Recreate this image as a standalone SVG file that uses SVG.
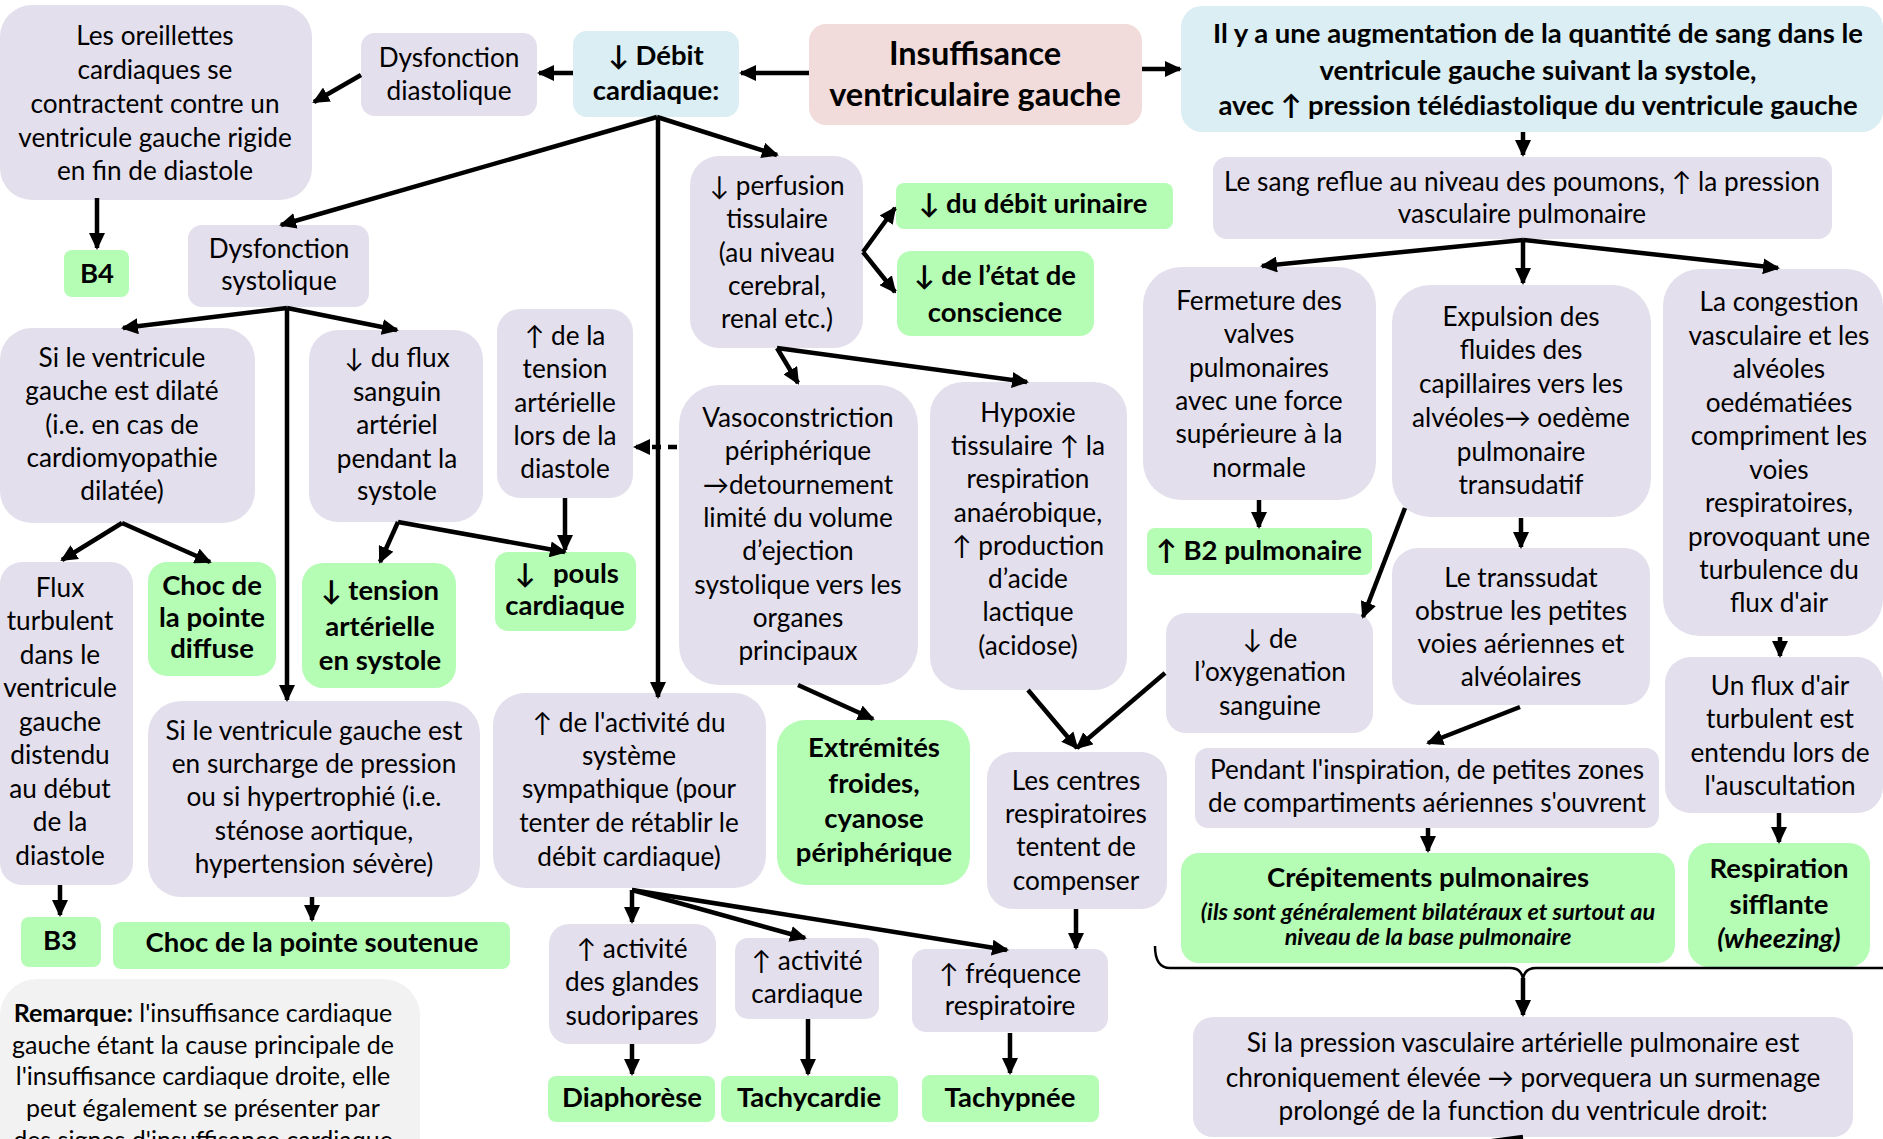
<svg xmlns="http://www.w3.org/2000/svg" width="1883" height="1139" viewBox="0 0 1883 1139">
<defs>
<marker id="ah" markerUnits="userSpaceOnUse" markerWidth="17" markerHeight="16" refX="15" refY="8" orient="auto"><path d="M0,0 L17,8 L0,16 z" fill="#000"/></marker>
<style>
.n{fill:#E4DFEC}.g{fill:#B5FDB5}.bl{fill:#DAEEF3}.pk{fill:#F2DCDB}.gr{fill:#F2F2F2}
text{font-family:Lato,'DejaVu Sans',sans-serif;font-size:26.2px;fill:#000;text-anchor:middle}
.b{font-weight:bold}
text.b{font-size:27.5px}
.i{font-style:italic}
#connectors line,#connectors path{stroke:#000;stroke-width:4.5;fill:none;marker-end:url(#ah)}
#connectors .nm{marker-end:none}
#connectors .thin{stroke-width:2.5}
</style>
</defs>
<rect width="1883" height="1139" fill="#fff"/>

<g id="n-oreillettes"><rect class="n" x="0" y="5" width="312" height="195" rx="32"/>
<text><tspan x="155" y="45">Les oreillettes</tspan><tspan x="155" y="79">cardiaques se</tspan><tspan x="155" y="113">contractent contre un</tspan><tspan x="155" y="147">ventricule gauche rigide</tspan><tspan x="155" y="180">en fin de diastole</tspan></text></g>

<g id="n-b4"><rect class="g" x="64" y="250" width="65" height="47" rx="8"/><text class="b" x="97" y="283">B4</text></g>

<g id="n-dysdiast"><rect class="n" x="361" y="33" width="176" height="83" rx="14"/>
<text><tspan x="449" y="67">Dysfonction</tspan><tspan x="449" y="100">diastolique</tspan></text></g>

<g id="n-debit"><rect class="bl" x="573" y="31" width="166" height="86" rx="14"/>
<text class="b"><tspan x="656" y="65">↓ Débit</tspan><tspan x="656" y="100">cardiaque:</tspan></text></g>

<g id="n-icg"><rect class="pk" x="809" y="24" width="333" height="101" rx="17"/>
<text class="b" style="font-size:32.5px"><tspan x="975" y="65">Insuffisance</tspan><tspan x="975" y="106">ventriculaire gauche</tspan></text></g>

<g id="n-augment"><rect class="bl" x="1181" y="6" width="702" height="126" rx="21"/>
<text class="b"><tspan x="1538" y="43">Il y a une augmentation de la quantité de sang dans le</tspan><tspan x="1538" y="80">ventricule gauche suivant la systole,</tspan><tspan x="1538" y="115">avec ↑ pression télédiastolique du ventricule gauche</tspan></text></g>

<g id="n-sang"><rect class="n" x="1213" y="157" width="619" height="82" rx="14"/>
<text><tspan x="1522" y="191">Le sang reflue au niveau des poumons, ↑ la pression</tspan><tspan x="1522" y="223">vasculaire pulmonaire</tspan></text></g>

<g id="n-fermeture"><rect class="n" x="1143" y="267" width="233" height="233" rx="38"/>
<text><tspan x="1259" y="310">Fermeture des</tspan><tspan x="1259" y="343">valves</tspan><tspan x="1259" y="377">pulmonaires</tspan><tspan x="1259" y="410">avec une force</tspan><tspan x="1259" y="443">supérieure à la</tspan><tspan x="1259" y="477">normale</tspan></text></g>

<g id="n-b2"><rect class="g" x="1147" y="528" width="225" height="47" rx="8"/><text class="b" x="1259" y="560">↑ B2 pulmonaire</text></g>

<g id="n-expulsion"><rect class="n" x="1392" y="285" width="259" height="232" rx="38"/>
<text><tspan x="1521" y="326">Expulsion des</tspan><tspan x="1521" y="359">fluides des</tspan><tspan x="1521" y="393">capillaires vers les</tspan><tspan x="1521" y="427">alvéoles→ oedème</tspan><tspan x="1521" y="461">pulmonaire</tspan><tspan x="1521" y="494">transudatif</tspan></text></g>

<g id="n-congestion"><rect class="n" x="1663" y="269" width="220" height="367" rx="37"/>
<text><tspan x="1779" y="311">La congestion</tspan><tspan x="1779" y="345">vasculaire et les</tspan><tspan x="1779" y="378">alvéoles</tspan><tspan x="1779" y="412">oedématiées</tspan><tspan x="1779" y="445">compriment les</tspan><tspan x="1779" y="479">voies</tspan><tspan x="1779" y="512">respiratoires,</tspan><tspan x="1779" y="546">provoquant une</tspan><tspan x="1779" y="579">turbulence du</tspan><tspan x="1779" y="612">flux d'air</tspan></text></g>

<g id="n-transsudat"><rect class="n" x="1392" y="548" width="258" height="157" rx="26"/>
<text><tspan x="1521" y="587">Le transsudat</tspan><tspan x="1521" y="620">obstrue les petites</tspan><tspan x="1521" y="653">voies aériennes et</tspan><tspan x="1521" y="686">alvéolaires</tspan></text></g>

<g id="n-oxygen"><rect class="n" x="1166" y="613" width="207" height="120" rx="20"/>
<text><tspan x="1270" y="648">↓ de</tspan><tspan x="1270" y="681">l’oxygenation</tspan><tspan x="1270" y="715">sanguine</tspan></text></g>

<g id="n-hypoxie"><rect class="n" x="930" y="382" width="197" height="308" rx="33"/>
<text><tspan x="1028" y="422">Hypoxie</tspan><tspan x="1028" y="455">tissulaire ↑ la</tspan><tspan x="1028" y="488">respiration</tspan><tspan x="1028" y="522">anaérobique,</tspan><tspan x="1028" y="555">↑ production</tspan><tspan x="1028" y="588">d’acide</tspan><tspan x="1028" y="621">lactique</tspan><tspan x="1028" y="655">(acidose)</tspan></text></g>

<g id="n-vaso"><rect class="n" x="679" y="385" width="239" height="300" rx="40"/>
<text><tspan x="798" y="427">Vasoconstriction</tspan><tspan x="798" y="460">périphérique</tspan><tspan x="798" y="494">→detournement</tspan><tspan x="798" y="527">limité du volume</tspan><tspan x="798" y="560">d’ejection</tspan><tspan x="798" y="594">systolique vers les</tspan><tspan x="798" y="627">organes</tspan><tspan x="798" y="660">principaux</tspan></text></g>

<g id="n-perfusion"><rect class="n" x="690" y="156" width="173" height="192" rx="29"/>
<text><tspan x="777" y="195">↓ perfusion</tspan><tspan x="777" y="228">tissulaire</tspan><tspan x="777" y="262">(au niveau</tspan><tspan x="777" y="295">cerebral,</tspan><tspan x="777" y="328">renal etc.)</tspan></text></g>

<g id="n-urinaire"><rect class="g" x="896" y="183" width="277" height="46" rx="8"/><text class="b" x="1033" y="213">↓ du débit urinaire</text></g>

<g id="n-conscience"><rect class="g" x="897" y="251" width="197" height="85" rx="14"/>
<text class="b"><tspan x="995" y="285">↓ de l’état de</tspan><tspan x="995" y="322">conscience</tspan></text></g>

<g id="n-dyssyst"><rect class="n" x="188" y="225" width="181" height="82" rx="14"/>
<text><tspan x="279" y="258">Dysfonction</tspan><tspan x="279" y="290">systolique</tspan></text></g>

<g id="n-dilate"><rect class="n" x="0" y="328" width="255" height="195" rx="32"/>
<text><tspan x="122" y="367">Si le ventricule</tspan><tspan x="122" y="400">gauche est dilaté</tspan><tspan x="122" y="434">(i.e. en cas de</tspan><tspan x="122" y="467">cardiomyopathie</tspan><tspan x="122" y="500">dilatée)</tspan></text></g>

<g id="n-fluxturb"><rect class="n" x="0" y="562" width="133" height="323" rx="22"/>
<text><tspan x="60" y="597">Flux</tspan><tspan x="60" y="630">turbulent</tspan><tspan x="60" y="664">dans le</tspan><tspan x="60" y="697">ventricule</tspan><tspan x="60" y="731">gauche</tspan><tspan x="60" y="764">distendu</tspan><tspan x="60" y="798">au début</tspan><tspan x="60" y="831">de la</tspan><tspan x="60" y="865">diastole</tspan></text></g>

<g id="n-chocdiff"><rect class="g" x="148" y="562" width="128" height="114" rx="19"/>
<text class="b"><tspan x="212" y="595">Choc de</tspan><tspan x="212" y="627">la pointe</tspan><tspan x="212" y="658">diffuse</tspan></text></g>

<g id="n-b3"><rect class="g" x="21" y="917" width="80" height="50" rx="8"/><text class="b" x="60" y="950">B3</text></g>

<g id="n-surcharge"><rect class="n" x="148" y="701" width="332" height="196" rx="33"/>
<text><tspan x="314" y="740">Si le ventricule gauche est</tspan><tspan x="314" y="773">en surcharge de pression</tspan><tspan x="314" y="806">ou si hypertrophié (i.e.</tspan><tspan x="314" y="840">sténose aortique,</tspan><tspan x="314" y="873">hypertension sévère)</tspan></text></g>

<g id="n-chocsout"><rect class="g" x="113" y="922" width="397" height="47" rx="8"/><text class="b" x="312" y="952">Choc de la pointe soutenue</text></g>

<g id="n-remarque"><rect class="gr" x="0" y="979" width="420" height="220" rx="37"/>
<text style="font-size:25px"><tspan x="203" y="1022"><tspan class="b">Remarque:</tspan> l'insuffisance cardiaque</tspan><tspan x="203" y="1054">gauche étant la cause principale de</tspan><tspan x="203" y="1085">l'insuffisance cardiaque droite, elle</tspan><tspan x="203" y="1117">peut également se présenter par</tspan><tspan x="203" y="1149">des signes d'insuffisance cardiaque</tspan></text></g>

<g id="n-fluxart"><rect class="n" x="309" y="330" width="174" height="192" rx="29"/>
<text><tspan x="397" y="367">↓ du flux</tspan><tspan x="397" y="401">sanguin</tspan><tspan x="397" y="434">artériel</tspan><tspan x="397" y="468">pendant la</tspan><tspan x="397" y="500">systole</tspan></text></g>

<g id="n-tensdiast"><rect class="n" x="497" y="309" width="136" height="189" rx="23"/>
<text><tspan x="565" y="345">↑ de la</tspan><tspan x="565" y="378">tension</tspan><tspan x="565" y="412">artérielle</tspan><tspan x="565" y="445">lors de la</tspan><tspan x="565" y="478">diastole</tspan></text></g>

<g id="n-pouls"><rect class="g" x="495" y="552" width="141" height="79" rx="13"/>
<text class="b"><tspan x="525" y="583">↓</tspan><tspan x="553" y="583" style="text-anchor:start">pouls</tspan><tspan x="565" y="615">cardiaque</tspan></text></g>

<g id="n-tenssyst"><rect class="g" x="302" y="563" width="154" height="125" rx="21"/>
<text class="b"><tspan x="380" y="600">↓ tension</tspan><tspan x="380" y="636">artérielle</tspan><tspan x="380" y="670">en systole</tspan></text></g>

<g id="n-sympa"><rect class="n" x="493" y="693" width="273" height="195" rx="32"/>
<text><tspan x="629" y="732">↑ de l'activité du</tspan><tspan x="629" y="765">système</tspan><tspan x="629" y="798">sympathique (pour</tspan><tspan x="629" y="832">tenter de rétablir le</tspan><tspan x="629" y="866">débit cardiaque)</tspan></text></g>

<g id="n-extrem"><rect class="g" x="777" y="720" width="193" height="165" rx="28"/>
<text class="b"><tspan x="874" y="757">Extrémités</tspan><tspan x="874" y="793">froides,</tspan><tspan x="874" y="828">cyanose</tspan><tspan x="874" y="862">périphérique</tspan></text></g>

<g id="n-glandes"><rect class="n" x="549" y="924" width="167" height="120" rx="20"/>
<text><tspan x="632" y="958">↑ activité</tspan><tspan x="632" y="991">des glandes</tspan><tspan x="632" y="1025">sudoripares</tspan></text></g>

<g id="n-diapho"><rect class="g" x="548" y="1076" width="167" height="46" rx="8"/><text class="b" x="632" y="1107">Diaphorèse</text></g>

<g id="n-actcard"><rect class="n" x="735" y="938" width="144" height="81" rx="13"/>
<text><tspan x="807" y="970">↑ activité</tspan><tspan x="807" y="1003">cardiaque</tspan></text></g>

<g id="n-tachyc"><rect class="g" x="721" y="1076" width="177" height="46" rx="8"/><text class="b" x="809" y="1107">Tachycardie</text></g>

<g id="n-freq"><rect class="n" x="912" y="949" width="196" height="83" rx="14"/>
<text><tspan x="1010" y="983">↑ fréquence</tspan><tspan x="1010" y="1015">respiratoire</tspan></text></g>

<g id="n-tachyp"><rect class="g" x="922" y="1075" width="177" height="47" rx="8"/><text class="b" x="1010" y="1107">Tachypnée</text></g>

<g id="n-centres"><rect class="n" x="987" y="752" width="180" height="157" rx="26"/>
<text><tspan x="1076" y="790">Les centres</tspan><tspan x="1076" y="823">respiratoires</tspan><tspan x="1076" y="856">tentent de</tspan><tspan x="1076" y="890">compenser</tspan></text></g>

<g id="n-pendant"><rect class="n" x="1195" y="748" width="464" height="80" rx="13"/>
<text><tspan x="1427" y="779">Pendant l'inspiration, de petites zones</tspan><tspan x="1427" y="812">de compartiments aériennes s'ouvrent</tspan></text></g>

<g id="n-crepit"><rect class="g" x="1181" y="853" width="494" height="110" rx="18"/>
<text class="b"><tspan x="1428" y="887">Crépitements pulmonaires</tspan><tspan class="i" x="1428" y="920" style="font-size:23.5px">(ils sont généralement bilatéraux et surtout au</tspan><tspan class="i" x="1428" y="945" style="font-size:23.5px">niveau de la base pulmonaire</tspan></text></g>

<g id="n-unflux"><rect class="n" x="1665" y="657" width="218" height="156" rx="26"/>
<text><tspan x="1780" y="695">Un flux d'air</tspan><tspan x="1780" y="728">turbulent est</tspan><tspan x="1780" y="762">entendu lors de</tspan><tspan x="1780" y="795">l'auscultation</tspan></text></g>

<g id="n-respi"><rect class="g" x="1688" y="843" width="182" height="124" rx="21"/>
<text class="b"><tspan x="1779" y="878">Respiration</tspan><tspan x="1779" y="914">sifflante</tspan><tspan class="i" x="1779" y="948">(wheezing)</tspan></text></g>

<g id="n-pression"><rect class="n" x="1193" y="1017" width="660" height="120" rx="20"/>
<text><tspan x="1523" y="1052">Si la pression vasculaire artérielle pulmonaire est</tspan><tspan x="1523" y="1087">chroniquement élevée → porvequera un surmenage</tspan><tspan x="1523" y="1120">prolongé de la function du ventricule droit:</tspan></text></g>

<g id="connectors">
<line x1="97" y1="198" x2="97" y2="248"/>
<line x1="361" y1="75" x2="314" y2="102"/>
<line x1="573" y1="73" x2="539" y2="73"/>
<line x1="809" y1="73" x2="741" y2="73"/>
<line x1="1142" y1="69" x2="1180" y2="69"/>
<line x1="657" y1="117" x2="281" y2="225"/>
<line x1="658" y1="117" x2="658" y2="697"/>
<line x1="657" y1="117" x2="777" y2="155"/>
<line x1="287" y1="308" x2="123" y2="328"/>
<line x1="287" y1="308" x2="397" y2="330"/>
<line x1="287" y1="308" x2="287" y2="700"/>
<line x1="122" y1="523" x2="62" y2="560"/>
<line x1="122" y1="523" x2="210" y2="562"/>
<line x1="398" y1="522" x2="380" y2="562"/>
<line x1="398" y1="522" x2="565" y2="552"/>
<line x1="565" y1="498" x2="565" y2="550"/>
<line x1="677" y1="447" x2="635" y2="447" stroke-dasharray="9,7"/>
<line x1="863" y1="252" x2="895" y2="208"/>
<line x1="863" y1="252" x2="895" y2="292"/>
<line x1="777" y1="348" x2="798" y2="383"/>
<line x1="777" y1="348" x2="1027" y2="382"/>
<line x1="798" y1="685" x2="873" y2="719"/>
<line x1="1028" y1="690" x2="1077" y2="748"/>
<line x1="1165" y1="673" x2="1077" y2="748"/>
<line x1="1076" y1="909" x2="1076" y2="948"/>
<line x1="632" y1="890" x2="632" y2="922"/>
<line x1="632" y1="890" x2="805" y2="938"/>
<line x1="632" y1="890" x2="1007" y2="950"/>
<line x1="632" y1="1044" x2="632" y2="1074"/>
<line x1="808" y1="1019" x2="808" y2="1074"/>
<line x1="1010" y1="1033" x2="1010" y2="1073"/>
<line x1="60" y1="885" x2="60" y2="915"/>
<line x1="312" y1="897" x2="312" y2="920"/>
<line x1="1523" y1="132" x2="1523" y2="155"/>
<line x1="1523" y1="240" x2="1262" y2="266"/>
<line x1="1523" y1="240" x2="1523" y2="283"/>
<line x1="1523" y1="240" x2="1778" y2="268"/>
<line x1="1259" y1="500" x2="1259" y2="527"/>
<line x1="1521" y1="518" x2="1521" y2="547"/>
<line x1="1405" y1="508" x2="1363" y2="617"/>
<line x1="1520" y1="707" x2="1428" y2="743"/>
<line x1="1428" y1="828" x2="1428" y2="851"/>
<line x1="1780" y1="637" x2="1780" y2="656"/>
<line x1="1779" y1="813" x2="1779" y2="842"/>
<path class="nm thin" d="M1155,946 Q1155,968 1170,968 L1510,968 Q1522,968 1523,980 Q1524,968 1536,968 L1883,968"/>
<line x1="1523" y1="978" x2="1523" y2="1015"/>
<line class="nm" x1="1523" y1="1137" x2="1455" y2="1146"/>
</g>
</svg>
